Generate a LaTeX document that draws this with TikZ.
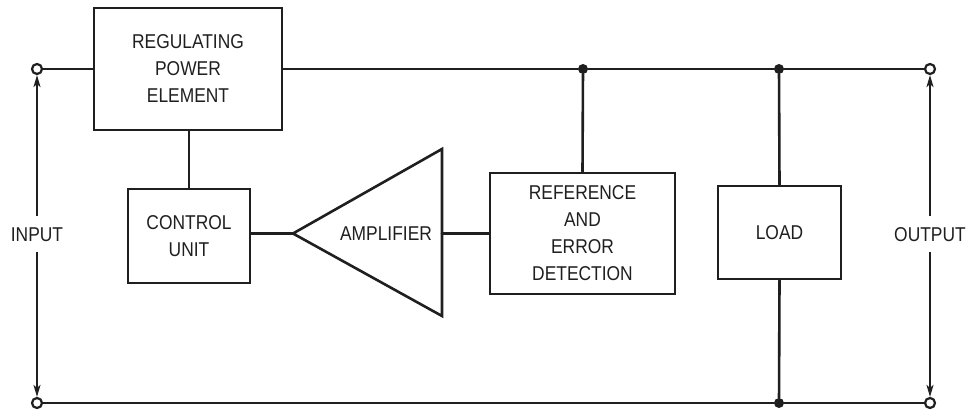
\documentclass[tikz,border=0pt]{standalone}
\usepackage{fontspec}
\setmainfont{Liberation Sans}[FakeStretch=0.87]
\usetikzlibrary{arrows.meta}
\begin{document}
\begin{tikzpicture}[x=1pt,y=-1pt,
  wire/.style={line width=2.6pt, line cap=round, draw=black!88},
  blk/.style={draw=black!88, line width=2.6pt, rectangle, inner sep=0pt, align=center,
    font=\fontsize{20}{27}\selectfont, text=black!88},
  lbl/.style={inner xsep=0pt, inner ysep=11pt, text height=14pt, text depth=0pt,
    font=\fontsize{20}{27}\selectfont, text=black!88},
  term/.style={circle, draw=black!88, fill=white, line width=2.2pt, minimum size=10pt, inner sep=0pt},
  dot/.style={circle, fill=black!88, minimum size=10pt, inner sep=0pt},
  meas/.style={line width=1.6pt, draw=black!88, -{Stealth[length=12pt,width=7pt,inset=3pt]}}
]
\useasboundingbox (0,0) rectangle (969,414);

% blocks
\node[blk, minimum width=188pt, minimum height=122pt] (reg) at (188,69) {REGULATING\\POWER\\ELEMENT};
\node[blk, minimum width=122pt, minimum height=94pt] (ctrl) at (189,236) {CONTROL\\UNIT};
\node[blk, minimum width=185pt, minimum height=121pt] (ref) at (582.5,233.5) {REFERENCE\\AND\\ERROR\\DETECTION};
\node[blk, minimum width=123pt, minimum height=93pt] (load) at (779.5,232.5) {LOAD};

% amplifier triangle
\coordinate (ampA) at (293,233.5);
\coordinate (ampT) at (442,149);
\coordinate (ampB) at (442,316);
\coordinate (ampR) at (442,233.5);
\draw[wire, line join=miter, line cap=butt] (ampA) -- (ampT) -- (ampB) -- cycle;
\node[lbl, inner ysep=0pt] (amp) at (386,233.5) {AMPLIFIER};

% junctions and terminals
\node[dot] (j1) at (583,69) {};
\node[dot] (j2) at (779,69) {};
\node[dot] (j3) at (779,403) {};
\node[term] (inT) at (37,69) {};
\node[term] (inB) at (37,403) {};
\node[term] (outT) at (930,69) {};
\node[term] (outB) at (930,403) {};

% wiring
\draw[wire] (inT) -- (reg.west);
\draw[wire] (reg.east) -- (j1) -- (j2) -- (outT);
\draw[wire] (inB) -- (j3) -- (outB);
\draw[wire] (reg.south -| ctrl.north) -- (ctrl.north);
\draw[wire] (ctrl.east |- ampA) -- (ampA);
\draw[wire] (ampR) -- (ref.west);
\draw[wire] (j1) -- (ref.north);
\draw[wire] (j2) -- (load.north);
\draw[wire] (load.south) -- (j3);

% input / output labels with arrows
\node[lbl] (inL) at (37,234) {INPUT};
\node[lbl] (outL) at (930,234) {OUTPUT};
\draw[meas] (inL.north) -- (inT.south);
\draw[meas] (inL.south) -- (inB.north);
\draw[meas] (outL.north) -- (outT.south);
\draw[meas] (outL.south) -- (outB.north);
\end{tikzpicture}
\end{document}
